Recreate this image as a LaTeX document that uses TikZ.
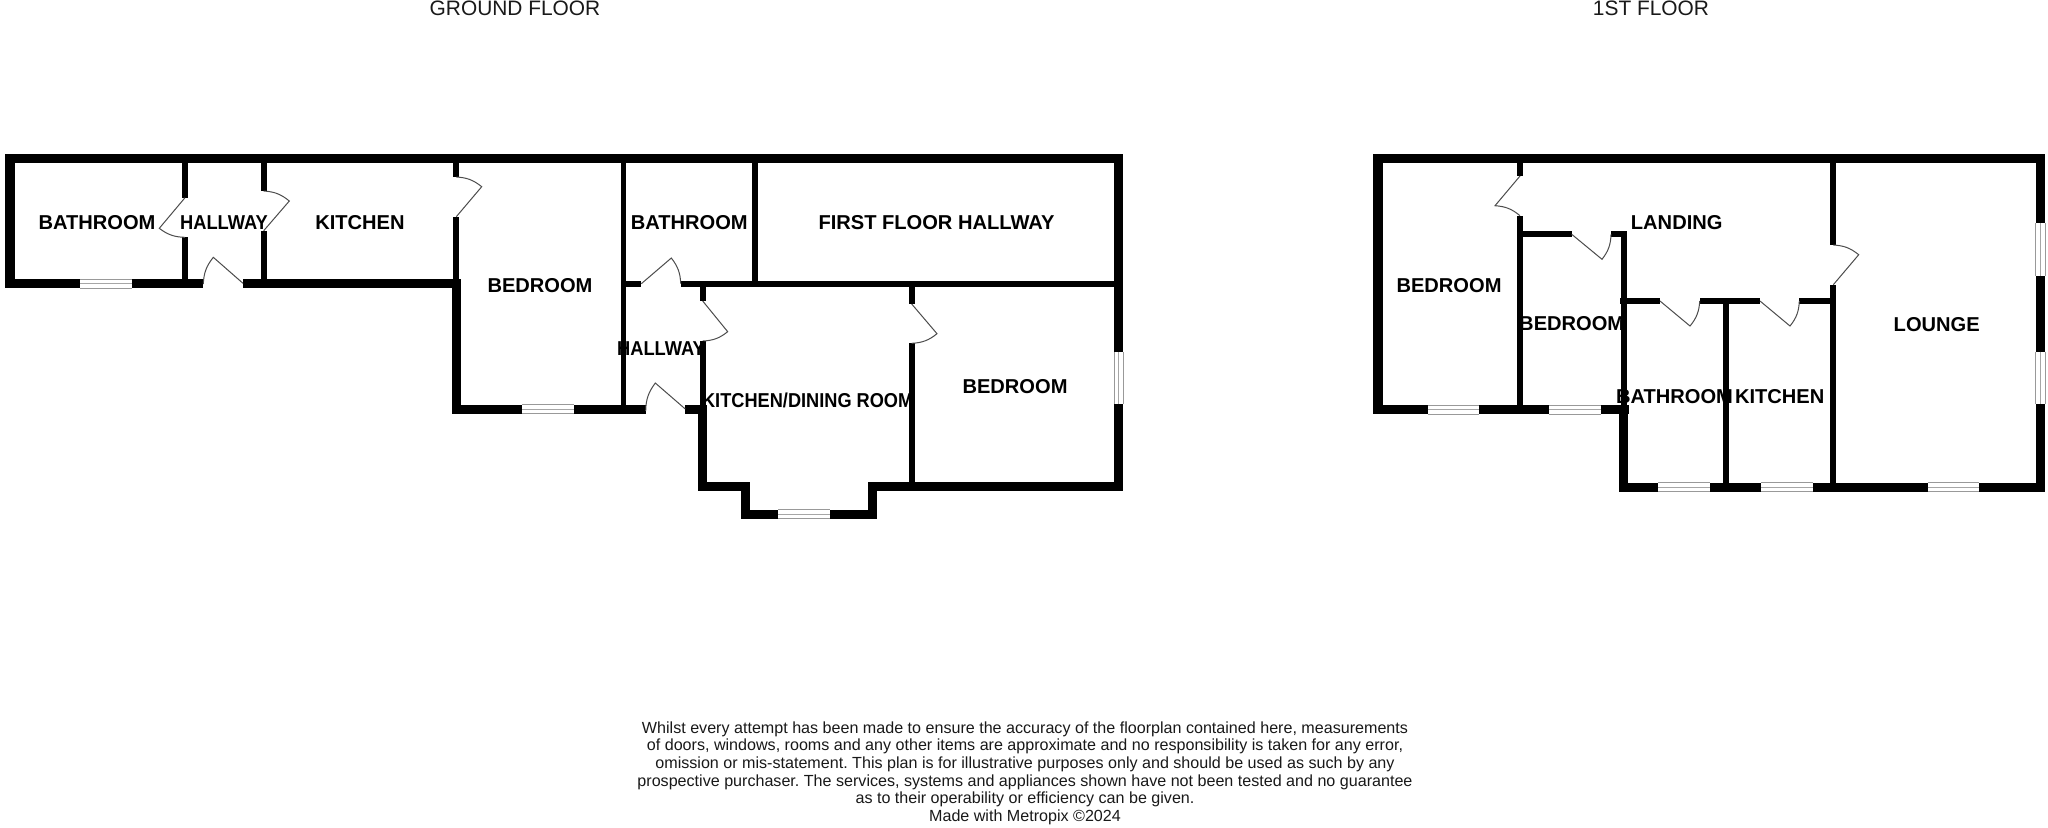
\documentclass[tikz,border=0pt]{standalone}
\usepackage{fontspec}
\setmainfont{Liberation Sans}
\newcommand{\W}[4]{\fill[black] (#1,#2) rectangle (#3,#4);}
% window in a horizontal wall: x1 x2 y1 y2
\newcommand{\WH}[4]{\fill[white] (#1,#3) rectangle (#2,#4);
  \draw[winline] (#1,#3) -- (#2,#3) (#1,#4) -- (#2,#4);
  \draw[winmid] (#1,{(#3+#4)/2}) -- (#2,{(#3+#4)/2});}
% window in a vertical wall: x1 y1 x2 y2
\newcommand{\WV}[4]{\fill[white] (#1,#2) rectangle (#3,#4);
  \draw[winline] (#1,#2) -- (#1,#4) (#3,#2) -- (#3,#4);
  \draw[winmid] ({(#1+#3)/2},#2) -- ({(#1+#3)/2},#4);}
% door: hinge, leaf end, jamb, bend side
\newcommand{\D}[7]{\draw[doorline] (#1,#2) -- (#3,#4) to[bend #7=18] (#5,#6);}
\tikzset{
  winline/.style={draw=black!40,line width=0.45pt},
  winmid/.style={draw=black!35,line width=0.7pt},
  doorline/.style={draw=black!70,line width=0.5pt},
  room/.style={font=\fontsize{10.05}{11}\selectfont\bfseries,text=black,inner sep=0pt},
  title/.style={font=\fontsize{10.45}{12}\selectfont,text=black!90,inner sep=0pt},
  note/.style={font=\frenchspacing\fontsize{8.05}{8.85}\selectfont,align=center,inner sep=0pt,text=black!90}
}
\begin{document}
\begin{tikzpicture}[x=0.5pt,y=-0.5pt]
\useasboundingbox (0,0) rectangle (2048,827);
\fill[white] (0,0) rectangle (2048,827);
\node[title] (gf) at (515,8) {GROUND FLOOR};
\node[title] (ff) at (1651,8) {1ST FLOOR};
% ---- ground floor walls
\W{5}{154}{1123.3}{163.3}
\W{5}{154}{14.7}{288}
\W{5}{279}{203.3}{288}
\W{243}{279}{460.7}{288}
\WH{80}{132.3}{279}{288}
\W{182}{163}{188}{197.7} \W{182}{237.3}{188}{280}
\D{185}{197.7}{159.3}{228.3}{185}{237.3}{right}
\W{260.7}{163}{266.7}{191} \W{260.7}{230.7}{266.7}{280}
\D{263.7}{230.7}{289.3}{201}{263.7}{191}{right}
\D{243}{283.3}{213.3}{257.3}{203.3}{284}{right}
\W{453.3}{163}{459.3}{176.7} \W{453.3}{216.7}{459.3}{280}
\D{456.3}{216.7}{481.7}{186.7}{456.3}{177}{right}
\W{451.7}{279}{460.7}{413.7}
\W{451.7}{404.7}{645.7}{413.7}
\WH{522.3}{574.3}{404.7}{413.7}
\W{621}{163}{626.3}{405}
\W{621}{280.7}{641.3}{286.7}
\W{680.7}{280.7}{1120}{286.7}
\D{641.3}{283.7}{671.3}{258}{680.7}{283.7}{left}
\W{752.3}{163}{757.7}{281}
\W{699.7}{286}{705.7}{301} \W{699.7}{341}{705.7}{405}
\D{702.7}{301}{727.7}{331.7}{702.7}{341}{left}
\W{685.3}{404.7}{707}{413.7}
\D{685.3}{409}{655.3}{383}{645.7}{411}{right}
\W{698.3}{404.7}{707.3}{491}
\W{698.3}{482.3}{749.7}{491}
\W{741}{482.3}{749.7}{518.7}
\W{741}{509.7}{876.7}{518.7}
\WH{778.3}{830.3}{509.7}{518.7}
\W{867.7}{482.3}{876.7}{518.7}
\W{867.7}{482.3}{1123.3}{491}
\W{1114}{154}{1123.3}{491}
\WV{1114}{352.3}{1123.3}{404.3}
\W{908.7}{286}{914.7}{304} \W{908.7}{343.3}{914.7}{483}
\D{911.7}{304}{937}{333.7}{911.7}{343.3}{left}
% ---- first floor walls
\W{1373.3}{154}{2045}{163.3}
\W{1373.3}{154}{1382.7}{414}
\W{1373.3}{405}{1628.7}{414}
\WH{1427.7}{1479}{405}{414}
\WH{1549}{1600.7}{405}{414}
\W{1517}{163}{1523.3}{176} \W{1517}{215.7}{1523.3}{405}
\D{1520}{176}{1495}{205.7}{1520}{215.7}{left}
\W{1517}{231.3}{1571.7}{237.3} \W{1611}{231.3}{1627.3}{237.3}
\D{1571.7}{234.3}{1602}{259.3}{1611}{234.3}{right}
\W{1620.7}{231.3}{1626.7}{405}
\W{1619.3}{405}{1628.3}{491.7}
\W{1620}{298}{1660}{304} \W{1699.7}{298}{1760}{304} \W{1799.3}{298}{1836}{304}
\D{1660}{301}{1690}{326}{1699.7}{301}{right}
\D{1760}{301}{1790}{326}{1799.3}{301}{right}
\W{1723}{301}{1729}{483}
\W{1830.3}{163}{1836.3}{245} \W{1830.3}{284.7}{1836.3}{483}
\D{1833.3}{284.7}{1858.7}{254.7}{1833.3}{245}{right}
\W{2035.7}{154}{2045}{491.7}
\WV{2035.7}{223.3}{2045}{275.7}
\WV{2035.7}{351.7}{2045}{403.7}
\W{1619.3}{482.7}{2045}{491.7}
\WH{1658.3}{1710.3}{482.7}{491.7}
\WH{1761.3}{1813.3}{482.7}{491.7}
\WH{1927.7}{1979.3}{482.7}{491.7}
% ---- labels
\node[room] (r1) at (97,223) {BATHROOM};
\node[room] (r2) at (224,223) {\scalebox{0.91}[1]{HALLWAY}};
\node[room] (r3) at (360,223) {KITCHEN};
\node[room] (r4) at (540,285.5) {BEDROOM};
\node[room] (r5) at (689.3,223) {BATHROOM};
\node[room] (r6) at (936.5,223) {FIRST FLOOR HALLWAY};
\node[room] (r7) at (661,348.5) {\scalebox{0.91}[1]{HALLWAY}};
\node[room,anchor=base] (r8) at (807.7,407.5) {\scalebox{0.905}[1]{KITCHEN/DINING ROOM}};
\node[room] (r9) at (1015,386.7) {BEDROOM};
\node[room] (r10) at (1449,285.5) {BEDROOM};
\node[room] (r11) at (1571.7,323.5) {BEDROOM};
\node[room] (r12) at (1676.7,223) {LANDING};
\node[room] (r13) at (1674.5,397) {BATHROOM};
\node[room] (r14) at (1779.7,397) {KITCHEN};
\node[room] (r15) at (1936.7,324.5) {LOUNGE};
\node[note,anchor=north] (n) at (1025,721) {Whilst every attempt has been made to ensure the accuracy of the floorplan contained here, measurements\\
of doors, windows, rooms and any other items are approximate and no responsibility is taken for any error,\\
omission or mis-statement. This plan is for illustrative purposes only and should be used as such by any\\
prospective purchaser. The services, systems and appliances shown have not been tested and no guarantee\\
as to their operability or efficiency can be given.\\
Made with Metropix \textcopyright 2024};
\end{tikzpicture}
\end{document}
